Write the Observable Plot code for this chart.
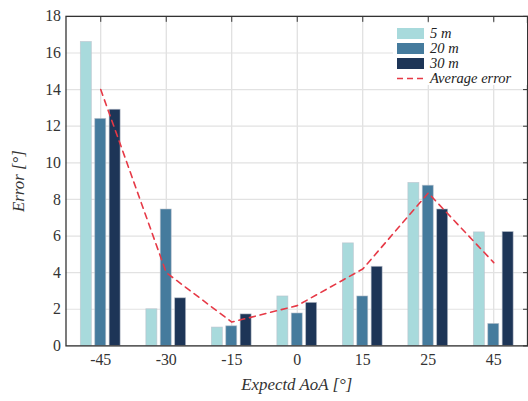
<!DOCTYPE html>
<html>
<head>
<meta charset="utf-8">
<script src="https://cdn.jsdelivr.net/npm/d3@7"></script>
<script src="https://cdn.jsdelivr.net/npm/@observablehq/plot@0.6"></script>
<style>
  html, body { margin: 0; padding: 0; background: #fff; overflow: hidden; }
  #wrap { position: relative; width: 528px; height: 401px; overflow: hidden; }
  #chart svg, #chart svg text { font-family: "Liberation Serif", "DejaVu Serif", serif !important; }
  g[aria-label="x-axis label"] text, g[aria-label="y-axis label"] text { font-style: italic; font-size: 17px; }
  #legend { position: absolute; left: 393px; top: 23px; width: 134px; height: 62px; background: #fff;
    font-family: "Liberation Serif", "DejaVu Serif", serif; font-style: italic; font-size: 14.5px; line-height: 15px; color: #222; }
  .row { position: absolute; left: 4px; height: 15px; display: flex; align-items: center; }
  .sw { width: 27px; height: 11px; margin-right: 6px; }
</style>
</head>
<body>
<div id="wrap"><div id="chart"></div><div id="legend"></div></div>
<script>
const categories = ["-45", "-30", "-15", "0", "15", "25", "45"];
const series = ["5 m", "20 m", "30 m"];
const colors = ["#a8dadc", "#457b9d", "#1d3557"];
const values5m  = [16.6, 2.0, 1.0, 2.7, 5.6, 8.9, 6.2];
const values20m = [12.4, 7.45, 1.07, 1.77, 2.7, 8.75, 1.2];
const values30m = [12.9, 2.6, 1.72, 2.35, 4.32, 7.45, 6.22];
const averageError = [14.0, 4.0, 1.3, 2.2, 4.2, 8.35, 4.55];
const yTicks = [0, 2, 4, 6, 8, 10, 12, 14, 16, 18];
const avgColor = "#e63946";

const seriesValues = [values5m, values20m, values30m];
const rows = seriesValues.map(vals => categories.map((c, i) => ({cat: c, v: vals[i]})));
const avgRows = categories.map((c, i) => ({cat: c, v: averageError[i]}));

const bw = 11.5, step = 14.5;
const width = 532, mL = 66, mR = 1;
const band = (width - mL - mR) / categories.length;
const inset = (band - bw) / 2;

const barMarks = rows.map((data, k) => Plot.barY(data, {
  x: "cat", y: "v", fill: colors[k], insetLeft: inset, insetRight: inset,
  dx: (k - 1) * step, stroke: "#b9c0cc", strokeWidth: 0.8, strokeOpacity: 0.7
}));

const chart = Plot.plot({
  width, height: 401,
  marginLeft: mL, marginRight: mR, marginTop: 16, marginBottom: 53,
  style: {fontSize: "16px", color: "#333", background: "#fff"},
  x: {type: "band", domain: categories, padding: 0},
  y: {domain: [0, 18]},
  marks: [
    Plot.gridX(categories, {stroke: "#d8d8d8", strokeOpacity: 1}),
    Plot.gridY(yTicks, {stroke: "#e2e2e2", strokeOpacity: 1, strokeWidth: 1.2}),
    ...barMarks,
    Plot.lineY(avgRows, {x: "cat", y: "v", stroke: avgColor, strokeWidth: 1.6, strokeDasharray: "6,5"}),
    Plot.axisX({anchor: "bottom", tickSize: 0, tickPadding: 8, fontSize: 16, label: "Expectd AoA [°]", labelAnchor: "center", labelOffset: 44, labelArrow: "none"}),
    Plot.axisX({anchor: "top", tickSize: -5, tickFormat: () => "", label: null}),
    Plot.axisY({ticks: yTicks, anchor: "left", tickSize: 0, tickPadding: 5, fontSize: 16, label: "Error [°]", labelAnchor: "center", labelOffset: 54, labelArrow: "none"}),
    Plot.axisY({ticks: yTicks, anchor: "right", tickSize: -5, tickFormat: () => "", label: null}),
    Plot.frame({stroke: "#333", strokeWidth: 1.3})
  ]
});
document.getElementById("chart").appendChild(chart);

// legend
const legend = document.getElementById("legend");
const rowY = [3, 18, 33, 48];
series.forEach((s, k) => {
  const r = document.createElement("div");
  r.className = "row"; r.style.top = rowY[k] + "px";
  r.innerHTML = `<div class="sw" style="background:${colors[k]}"></div><span>${s}</span>`;
  legend.appendChild(r);
});
const r = document.createElement("div");
r.className = "row"; r.style.top = rowY[3] + "px";
r.innerHTML = `<svg width="27" height="11" style="margin-right:6px"><line x1="0" x2="27" y1="5.5" y2="5.5" stroke="${avgColor}" stroke-width="1.6" stroke-dasharray="6,4"/></svg><span>Average error</span>`;
legend.appendChild(r);
</script>
</body>
</html>
